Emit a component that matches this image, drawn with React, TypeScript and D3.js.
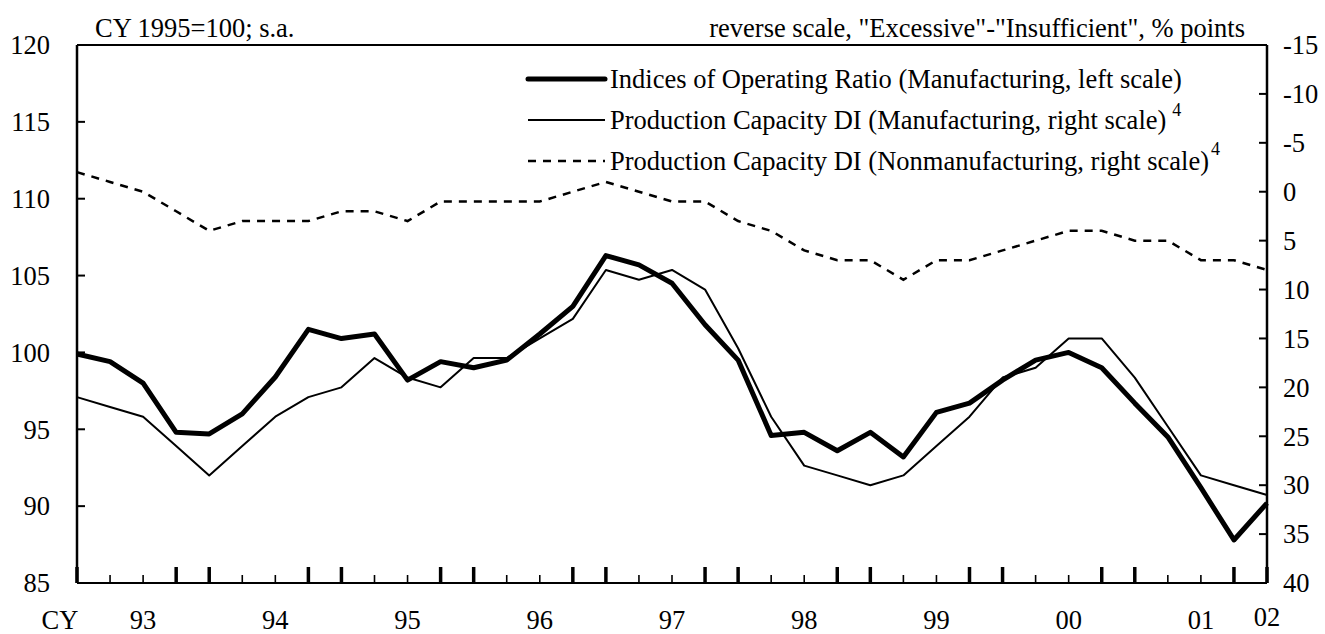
import React from "react";
import * as d3 from "d3";

const quarters = [
  "1993Q1","1993Q2","1993Q3","1993Q4","1994Q1","1994Q2","1994Q3","1994Q4",
  "1995Q1","1995Q2","1995Q3","1995Q4","1996Q1","1996Q2","1996Q3","1996Q4",
  "1997Q1","1997Q2","1997Q3","1997Q4","1998Q1","1998Q2","1998Q3","1998Q4",
  "1999Q1","1999Q2","1999Q3","1999Q4","2000Q1","2000Q2","2000Q3","2000Q4",
  "2001Q1","2001Q2","2001Q3","2001Q4","2002Q1",
];

const operatingRatio = [
  99.9, 99.4, 98.0, 94.8, 94.7, 96.0, 98.4, 101.5, 100.9, 101.2, 98.2, 99.4,
  99.0, 99.5, 101.2, 103.0, 106.3, 105.7, 104.5, 101.8, 99.5, 94.6, 94.8, 93.6,
  94.8, 93.2, 96.1, 96.7, 98.2, 99.5, 100.0, 99.0, 96.7, 94.5, 91.2, 87.8, 90.2,
];

const mfgCapacityDI = [
  21, 22, 23, 26, 29, 26, 23, 21, 20, 17, 19, 20, 17, 17, 15, 13, 8, 9, 8, 10,
  16, 23, 28, 29, 30, 29, 26, 23, 19, 18, 15, 15, 19, 24, 29, 30, 31,
];

const nonmfgCapacityDI = [
  -2, -1, 0, 2, 4, 3, 3, 3, 2, 2, 3, 1, 1, 1, 1, 0, -1, 0, 1, 1, 3, 4, 6, 7, 7,
  9, 7, 7, 6, 5, 4, 4, 5, 5, 7, 7, 8,
];

const leftTicks = [85, 90, 95, 100, 105, 110, 115, 120];
const rightTicks = [-15, -10, -5, 0, 5, 10, 15, 20, 25, 30, 35, 40];
const yearLabels = ["93", "94", "95", "96", "97", "98", "99", "00", "01", "02"];
const yearLabelQuarter = ["1993Q3", "1994Q3", "1995Q3", "1996Q3", "1997Q3", "1998Q3", "1999Q3", "2000Q3", "2001Q3", "2002Q1"];

const legendLabels = [
  "Indices of Operating Ratio (Manufacturing, left scale)",
  "Production Capacity DI (Manufacturing, right scale)",
  "Production Capacity DI (Nonmanufacturing, right scale)",
];

export default function App() {
  const W = 1325, H = 634;
  const left = 77, right = 1267, top = 45, bottom = 583;
  const font = "\"Liberation Serif\", \"Times New Roman\", Times, \"DejaVu Serif\", serif";
  const fs = 26.5;

  const x = d3.scalePoint<string>().domain(quarters).range([left, right]);
  const yL = d3.scaleLinear().domain([85, 120]).range([bottom, top]);
  const yR = d3.scaleLinear().domain([40, -15]).range([bottom, top]);

  const lineL = d3.line<number>().x((_, i) => x(quarters[i])!).y((d) => yL(d));
  const lineR = d3.line<number>().x((_, i) => x(quarters[i])!).y((d) => yR(d));

  const legendY = [79, 120, 161];
  const lx0 = 528, lx1 = 605, ltx = 610;
  const ts: React.CSSProperties = { fontFamily: font, fontSize: fs };

  return (
    <svg width={W} height={H} style={{ position: "absolute", left: 0, top: 0, background: "#fff", fontFamily: font }}>
      <rect x={0} y={0} width={W} height={H} fill="#fff" />
      {/* titles */}
      <text x={95} y={37} style={ts}>CY 1995=100; s.a.</text>
      <text x={1245} y={37} style={ts} textAnchor="end">reverse scale, "Excessive"-"Insufficient", % points</text>

      {/* frame */}
      <line x1={left} y1={top} x2={right} y2={top} stroke="#000" strokeWidth={2} />
      <line x1={left} y1={top} x2={left} y2={bottom} stroke="#000" strokeWidth={2.5} />
      <line x1={right} y1={top} x2={right} y2={bottom} stroke="#000" strokeWidth={2.5} />
      <line x1={left} y1={bottom} x2={right} y2={bottom} stroke="#000" strokeWidth={2} />

      {/* left ticks */}
      {leftTicks.map((t) => (
        <g key={"l" + t}>
          <line x1={left} x2={left + 8} y1={yL(t)} y2={yL(t)} stroke="#000" strokeWidth={2} />
          <text x={50} y={yL(t)} dy="0.35em" style={ts} textAnchor="end">{t}</text>
        </g>
      ))}
      {/* right ticks */}
      {rightTicks.map((t) => (
        <g key={"r" + t}>
          <line x1={right - 8} x2={right} y1={yR(t)} y2={yR(t)} stroke="#000" strokeWidth={2} />
          <text x={1283} y={yR(t)} dy="0.35em" style={ts}>{t}</text>
        </g>
      ))}
      {/* bottom ticks */}
      {quarters.map((q, i) => {
        const heavy = i % 4 === 0 || i % 4 === 3;
        return (
          <line key={q} x1={x(q)} x2={x(q)} y1={bottom} y2={bottom - (heavy ? 16 : 8)} stroke="#000" strokeWidth={heavy ? 3.5 : 1.6} />
        );
      })}
      <text x={60} y={629} style={ts} textAnchor="middle">CY</text>
      {yearLabels.map((lab, i) => (
        <text key={lab} x={x(yearLabelQuarter[i])} y={i === yearLabels.length - 1 ? 626 : 629} style={ts} textAnchor="middle">{lab}</text>
      ))}

      {/* series */}
      <path d={lineR(nonmfgCapacityDI)!} fill="none" stroke="#000" strokeWidth={2.5} strokeDasharray="8,7" />
      <path d={lineR(mfgCapacityDI)!} fill="none" stroke="#000" strokeWidth={2} strokeLinejoin="round" />
      <path d={lineL(operatingRatio)!} fill="none" stroke="#000" strokeWidth={5} strokeLinejoin="round" />

      {/* legend */}
      <line x1={lx0} x2={lx1} y1={legendY[0]} y2={legendY[0]} stroke="#000" strokeWidth={5} strokeLinecap="round" />
      <line x1={lx0} x2={lx1} y1={legendY[1]} y2={legendY[1]} stroke="#000" strokeWidth={2} />
      <line x1={lx0} x2={lx1} y1={legendY[2]} y2={legendY[2]} stroke="#000" strokeWidth={2.5} strokeDasharray="8,7" />
      <text x={ltx} y={legendY[0] + 9} style={ts}>{legendLabels[0]}</text>
      <text x={ltx} y={legendY[1] + 9} style={ts}>
        {legendLabels[1]}
        <tspan dx={6} dy={-13} style={{ fontSize: 18 }}>4</tspan>
      </text>
      <text x={ltx} y={legendY[2] + 9} style={ts}>
        {legendLabels[2]}
        <tspan dx={2} dy={-15} style={{ fontSize: 18 }}>4</tspan>
      </text>
    </svg>
  );
}
